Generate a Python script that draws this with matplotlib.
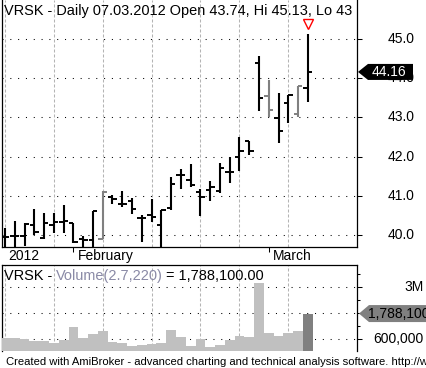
import numpy as np
import matplotlib
matplotlib.use("Agg")
import matplotlib.pyplot as plt
from matplotlib.patches import Polygon
from matplotlib import transforms

plt.rcParams['font.family'] = ['Liberation Sans', 'DejaVu Sans']

# daily bars, 23.01.2012 .. 07.03.2012
opens = [39.95, 39.97, 39.97, 40.26, 39.92, 40.26, 40.34, 40.31, 39.90, 39.87,
         39.90, 40.98, 40.78, 40.88, 40.43, 40.50, 40.26, 40.68, 41.53, 41.40,
         41.10, 41.15, 41.13, 41.62, 42.00, 42.40, 44.38, 43.55, 42.98, 43.36,
         43.08, 43.74]
highs = [40.17, 40.36, 40.31, 40.66, 40.55, 40.55, 40.77, 40.31, 39.97, 40.61,
         41.13, 41.02, 41.12, 40.94, 40.51, 40.92, 40.64, 41.47, 41.68, 41.81,
         41.17, 41.38, 41.83, 42.00, 42.49, 42.41, 44.57, 43.95, 43.63, 43.57,
         43.80, 45.13]
lows = [39.60, 39.60, 39.73, 40.00, 39.90, 40.04, 40.06, 39.79, 39.60, 39.60,
        39.90, 40.78, 40.71, 40.53, 39.81, 40.34, 39.70, 40.65, 41.17, 41.23,
        40.48, 40.87, 41.08, 41.32, 41.64, 42.04, 43.17, 43.02, 42.35, 42.85,
        43.00, 43.40]
closes = [39.95, 39.97, 40.28, 40.08, 40.30, 40.34, 40.36, 39.83, 39.88, 40.61,
          41.10, 40.92, 40.78, 40.66, 40.43, 40.47, 40.64, 41.30, 41.53, 41.28,
          40.96, 41.22, 41.72, 41.61, 42.14, 42.15, 43.49, 43.19, 42.65, 43.57,
          43.80, 44.16]
gray_bars = [10, 27, 30]
volume = [646000, 674000, 614000, 535000, 508000, 415000, 568000, 1154000,
          674000, 845000, 983000, 489000, 415000, 305000, 337000, 383000,
          443000, 1029000, 720000, 291000, 614000, 231000, 337000, 568000,
          752000, 720000, 3212000, 905000, 752000, 905000, 983000, 1788100]

week_starts = [0, 5, 10, 15, 20, 24, 29]
month_ticks = [7, 27]
month_labels = ["February", "March"]
price_ticks = [40.0, 41.0, 42.0, 43.0, 44.0, 45.0]
vol_major = [600000, 1800000, 3000000]
vol_minor = [1200000, 2400000, 3600000]
vol_labels = ["600,000", "1.8M", "3M"]

W, H = 426, 368
fig = plt.figure(figsize=(W / 100, H / 100), dpi=100)


def fx(px):
    return px / W


def fy(py):
    return 1 - py / H


ax = fig.add_axes([fx(2), fy(247), fx(355), fy(0) - fy(247)])
ax2 = fig.add_axes([fx(2), fy(351), fx(355), fy(265) - fy(351)])

n = len(closes)
x = np.arange(n)
xlim = (-0.307, 36.03)

dotted = dict(color="black", lw=0.75, linestyle=(0, (1, 6.5)), zorder=1)
dashed = dict(color="#b4b4b4", lw=0.75, linestyle=(0, (2.9, 1.9)), zorder=1)

# ---- price pane
for p in price_ticks:
    ax.axhline(p, **dotted)
for w in week_starts:
    ax.axvline(w, **dashed)
    ax2.axvline(w, **dashed)

cols = ["#808080" if i in gray_bars else "black" for i in range(n)]
ax.vlines(x, lows, highs, colors=cols, lw=1.5, zorder=3)
ax.hlines(opens, x - 0.45, x, colors=cols, lw=1.4, zorder=3)
ax.hlines(closes, x, x + 0.45, colors=cols, lw=1.4, zorder=3)

# red arrow above last bar
tr = transforms.offset_copy(ax.transData, fig=fig, y=10, units="dots")
ax.plot([x[-1]], [highs[-1]], marker="v", ms=7.5, mfc="white", mec="red",
        mew=1.0, transform=tr, clip_on=False, zorder=5)

ax.set_xlim(*xlim)
ax.set_ylim(39.694, 45.995)
ax.yaxis.tick_right()
ax.set_yticks(price_ticks)
ax.tick_params(axis="y", direction="out", length=3.6, width=0.75,
               labelright=False)
ax.set_xticks(month_ticks)
ax.tick_params(axis="x", direction="out", length=3.6, width=0.75,
               labelbottom=False)
ax.spines["top"].set_visible(False)
for s in ["left", "right", "bottom"]:
    ax.spines[s].set_linewidth(0.9)

btr = transforms.blended_transform_factory(fig.transFigure, ax.transData)
for p in price_ticks:
    ax.text(fx(415), p, "%.1f" % p, transform=btr, ha="right", va="center",
            fontsize=10, clip_on=False)

ax.text(fx(4), fy(15), "VRSK - Daily 07.03.2012 Open 43.74, Hi 45.13, Lo 43",
        transform=fig.transFigure, fontsize=10.45, va="baseline", zorder=6)

# date labels under price pane
fig.text(fx(8), fy(260), "2012", fontsize=10, va="baseline")
ptr = transforms.blended_transform_factory(ax.transData, fig.transFigure)
for m, lab in zip(month_ticks, month_labels):
    ax.text(m + 0.45, fy(260), lab, transform=ptr, fontsize=10,
            va="baseline", clip_on=False)

# last price label
last = closes[-1]
tip = ax.transData.transform((xlim[1], last))
tx, ty = tip[0] + 1, tip[1]
box = Polygon([[tx, ty], [tx + 10, ty + 8], [tx + 55, ty + 8],
               [tx + 55, ty - 8], [tx + 10, ty - 8]], closed=True,
              transform=None, facecolor="black", edgecolor="none",
              zorder=10, clip_on=False)
fig.add_artist(box)
fig.text((tx + 14) / W, ty / H, "%.2f" % last, color="white", fontsize=10,
         va="center", zorder=11)

# ---- volume pane
for v in vol_major:
    ax2.axhline(v, **dotted)
vcols = ["#c0c0c0"] * (n - 1) + ["#808080"]
ax2.bar(x, volume, width=1.0, color=vcols, linewidth=0, zorder=3)
ax2.set_xlim(*xlim)
ax2.set_ylim(60000, 4030000)
ax2.yaxis.tick_right()
ax2.set_yticks(vol_major)
ax2.set_yticks(vol_minor, minor=True)
ax2.tick_params(axis="y", which="major", direction="out", length=3.6,
                width=0.75, labelright=False)
ax2.tick_params(axis="y", which="minor", direction="out", length=2.2,
                width=0.75)
ax2.set_xticks([])
ax2.spines["bottom"].set_visible(False)
for s in ["left", "right", "top"]:
    ax2.spines[s].set_linewidth(0.9)

btr2 = transforms.blended_transform_factory(fig.transFigure, ax2.transData)
for v, lab in zip(vol_major, vol_labels):
    ax2.text(fx(424), v, lab, transform=btr2, ha="right", va="center",
             fontsize=10, clip_on=False)

# volume title in three colours, placed one after another
renderer = fig.canvas.get_renderer()
parts = [("VRSK - ", "black"), ("Volume(2.7,220)", "#8a8aa6"),
         (" = 1,788,100.00", "black")]
px = 4
for txt, c in parts:
    t = fig.text(fx(px), fy(280), txt.strip(), fontsize=10.45,
                 va="baseline", color=c)
    wpx = t.get_window_extent(renderer).width
    px += wpx + (4 if txt.endswith(" ") else 3)

lv = volume[-1]
tip = ax2.transData.transform((xlim[1], lv))
tx, ty = tip[0] + 2, tip[1]
box2 = Polygon([[tx, ty], [tx + 10, ty + 8.5], [tx + 70, ty + 8.5],
                [tx + 70, ty - 8.5], [tx + 10, ty - 8.5]], closed=True,
               transform=None, facecolor="#808080", edgecolor="none",
               zorder=10, clip_on=False)
fig.add_artist(box2)
fig.text((tx + 9) / W, ty / H, "1,788,100", color="black", fontsize=10,
         va="center", zorder=11)

fig.text(fx(6), fy(365), "Created with AmiBroker - advanced charting and "
         "technical analysis software. http://www.amibroker.com",
         fontsize=8.15, va="baseline")

fig.savefig("out.png", dpi=100)
